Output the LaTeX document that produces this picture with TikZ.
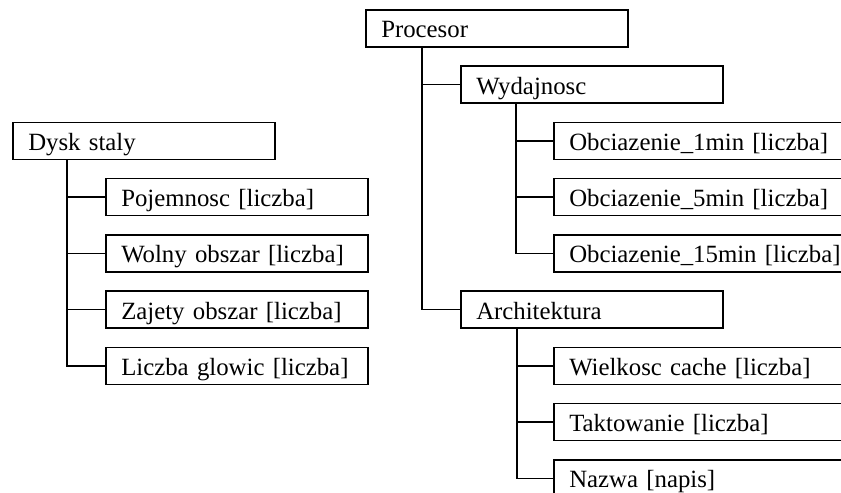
\documentclass[tikz,border=0pt]{standalone}
\usepackage{fontspec}
\setmainfont{Liberation Serif}
\usetikzlibrary{calc}
\begin{document}
\begin{tikzpicture}[x=0.75pt,y=-0.75pt,
  line width=1.2pt,
  item/.style={draw, rectangle, anchor=north west, align=left,
    inner xsep=11.6pt, inner ysep=0pt, minimum height=27.75pt,
    text height=15.75pt, text depth=1.5pt, text width=173.25pt,
    font=\fontsize{18.6}{22}\selectfont},
  openitem/.style={item, text width=276.75pt},
  branch/.style={line width=1.2pt}]
\clip (0,0) rectangle (841,492);

% processor subtree
\node[item] (proc) at (365,9) {Procesor};
\node[item] (wyd) at (460,65.25) {Wydajnosc};
\node[openitem] (o1) at (553,121.5) {Obciazenie\_1min [liczba]};
\node[openitem] (o5) at (553,177.75) {Obciazenie\_5min [liczba]};
\node[openitem] (o15) at (553,234) {Obciazenie\_15min [liczba]};
\node[item] (arch) at (460,290.25) {Architektura};
\node[openitem] (cache) at (553,346.5) {Wielkosc cache [liczba]};
\node[openitem] (takt) at (553,402.75) {Taktowanie [liczba]};
\node[openitem] (nazwa) at (553,459) {Nazwa [napis]};

% disk subtree
\node[item] (dysk) at (12,121.5) {Dysk staly};
\node[item] (poj) at (105,177.75) {Pojemnosc [liczba]};
\node[item] (wolny) at (105,234) {Wolny obszar [liczba]};
\node[item] (zaj) at (105,290.25) {Zajety obszar [liczba]};
\node[item] (glow) at (105,346.5) {Liczba glowic [liczba]};

% tree connectors
\coordinate (pstem) at ($(proc.south west)+(57,0)$);
\coordinate (wstem) at ($(wyd.south west)+(56,0)$);
\coordinate (astem) at ($(arch.south west)+(57,0)$);
\coordinate (dstem) at ($(dysk.south west)+(55,0)$);

\draw[branch] (pstem) |- (wyd.west);
\draw[branch] (pstem) |- (arch.west);
\draw[branch] (wstem) |- (o1.west);
\draw[branch] (wstem) |- (o5.west);
\draw[branch] (wstem) |- (o15.west);
\draw[branch] (astem) |- (cache.west);
\draw[branch] (astem) |- (takt.west);
\draw[branch] (astem) |- (nazwa.west);
\draw[branch] (dstem) |- (poj.west);
\draw[branch] (dstem) |- (wolny.west);
\draw[branch] (dstem) |- (zaj.west);
\draw[branch] (dstem) |- (glow.west);
\end{tikzpicture}
\end{document}
